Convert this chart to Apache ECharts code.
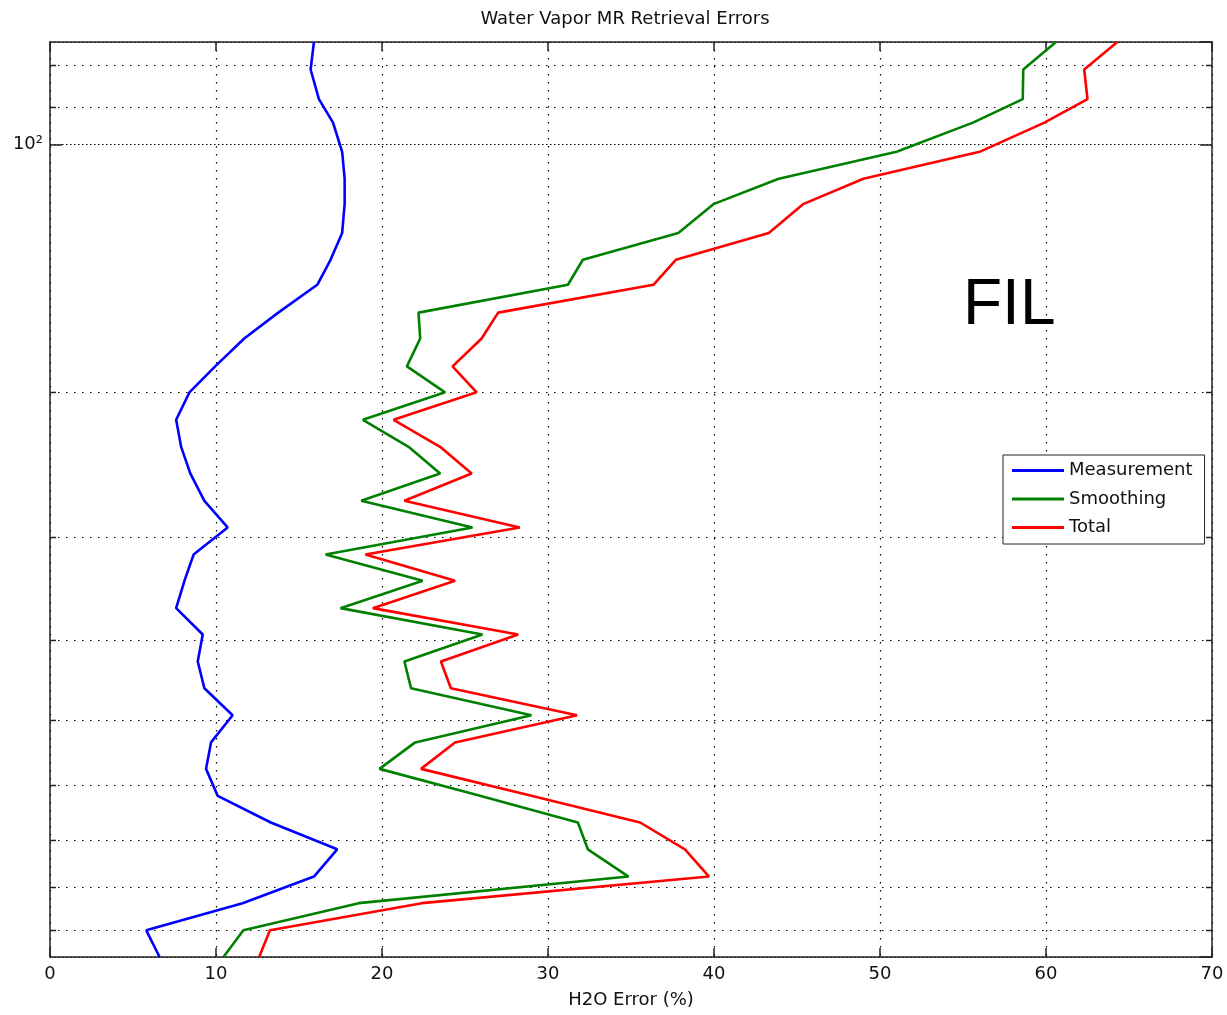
<!DOCTYPE html>
<html><head><meta charset="utf-8">
<script src="https://cdn.jsdelivr.net/npm/echarts@6/dist/echarts.min.js"></script>
<style>html,body{margin:0;padding:0;background:#fff}#c{width:1227px;height:1015px}</style>
</head><body><div id="c"></div>
<script>
// Pressure levels (hPa), top to bottom
const pressureLevels = [75, 81, 88, 94, 102, 110, 118, 128, 138, 148, 160, 172, 186, 200, 216, 233, 251, 271, 292, 315, 339, 366, 394, 425, 458, 494, 533, 574, 619, 667, 719, 776, 836, 902, 972];
// Errors (%) per level
const measurement = [15.9, 15.7, 16.2, 17.05, 17.6, 17.75, 17.75, 17.6, 16.9, 16.1, 13.75, 11.7, 9.95, 8.4, 7.6, 7.9, 8.45, 9.3, 10.7, 8.65, 8.1, 7.6, 9.2, 8.9, 9.3, 11.0, 9.7, 9.4, 10.1, 13.3, 17.3, 15.9, 11.6, 5.8, 6.6];
const smoothing = [60.6, 58.63, 58.6, 55.6, 51.0, 43.9, 40.0, 37.85, 32.1, 31.2, 22.2, 22.3, 21.5, 23.8, 18.85, 21.6, 23.5, 18.75, 25.45, 16.6, 22.45, 17.5, 26.05, 21.35, 21.75, 29.0, 22.0, 19.85, 25.9, 31.8, 32.4, 34.85, 18.6, 11.65, 10.45];
const total = [64.3, 62.3, 62.5, 59.9, 56.0, 49.0, 45.4, 43.3, 37.7, 36.35, 27.0, 26.0, 24.25, 25.7, 20.7, 23.5, 25.4, 21.35, 28.3, 19.0, 24.4, 19.45, 28.2, 23.55, 24.15, 31.75, 24.4, 22.35, 29.0, 35.55, 38.25, 39.7, 22.4, 13.25, 12.6];
const seriesNames = ['Measurement', 'Smoothing', 'Total'];
const seriesColors = ['#0000ff', '#008000', '#ff0000'];
// Axis ranges / ticks
const xMin = 0, xMax = 70, xStep = 10;
const pMin = 75, pMax = 972;
const minorGridP = [80, 90, 200, 300, 400, 500, 600, 700, 800, 900];

const FONT = 'DejaVu Sans';
const AX = '#222';
const DOT = {color: '#000', width: 1.2, type: [1.5, 6.5]};
const chart = echarts.init(document.getElementById('c'), null, {renderer: 'canvas'});

function lineSeries(name, vals, color) {
  return {
    name, type: 'line', xAxisIndex: 0, yAxisIndex: 0,
    data: pressureLevels.map((p, i) => [vals[i], p]),
    symbol: 'none', showSymbol: false, silent: true, z: 3,
    lineStyle: {color, width: 2.6}, itemStyle: {color},
    animation: false
  };
}

const option = {
  backgroundColor: '#fff',
  animation: false,
  title: {
    text: 'Water Vapor MR Retrieval Errors', left: 620, top: 5, textAlign: 'center',
    textStyle: {fontFamily: FONT, fontSize: 18, fontWeight: 'normal', color: '#111'}
  },
  grid: {left: 50, right: 15, top: 42, bottom: 58, containLabel: false},
  legend: {
    data: seriesNames, orient: 'vertical', left: 1003, top: 455,
    padding: [6, 12, 7, 9], itemWidth: 52, itemHeight: 3, itemGap: 9.5, icon: 'rect',
    backgroundColor: '#fff', borderColor: AX, borderWidth: 1,
    textStyle: {fontFamily: FONT, fontSize: 18, lineHeight: 19, color: '#111'}
  },
  xAxis: [
    {
      type: 'value', position: 'bottom', min: xMin, max: xMax, interval: xStep,
      axisLine: {show: true, lineStyle: {color: AX, width: 1.5}},
      axisTick: {show: true, inside: true, length: 9, lineStyle: {color: AX, width: 1.5}},
      axisLabel: {color: '#111', fontFamily: FONT, fontSize: 18, margin: 8},
      splitLine: {show: true, lineStyle: DOT},
      name: 'H2O Error (%)', nameLocation: 'middle', nameGap: 34,
      nameTextStyle: {fontFamily: FONT, fontSize: 18, color: '#111'}
    },
    {
      type: 'value', position: 'top', min: xMin, max: xMax, interval: xStep,
      axisLine: {show: true, onZero: false, lineStyle: {color: AX, width: 1.5}},
      axisTick: {show: true, inside: true, length: 9, lineStyle: {color: AX, width: 1.5}},
      axisLabel: {show: false}, splitLine: {show: false}
    }
  ],
  yAxis: [
    {
      type: 'log', logBase: 10, min: pMin, max: pMax, inverse: true, position: 'left',
      axisLine: {show: true, onZero: false, lineStyle: {color: AX, width: 1.5}},
      axisTick: {show: true, inside: true, length: 12, lineStyle: {color: AX, width: 1.5}},
      axisLabel: {
        color: '#111', fontFamily: FONT, fontSize: 18, margin: 7,
        showMinLabel: false, showMaxLabel: false,
        formatter: v => (Math.abs(v - 100) < 1e-6 ? '10²' : '')
      },
      splitLine: {show: true, lineStyle: {color: '#000', width: 1.2, type: [1.5, 2.5]}},
      minorTick: {show: false}, minorSplitLine: {show: false}
    },
    {
      type: 'log', logBase: 10, min: pMin, max: pMax, inverse: true, position: 'right',
      axisLine: {show: true, onZero: false, lineStyle: {color: AX, width: 1.5}},
      axisTick: {show: true, inside: true, length: 12, lineStyle: {color: AX, width: 1.5}},
      axisLabel: {show: false}, splitLine: {show: false}
    }
  ],
  graphic: [
    {type: 'text', left: 963, top: 274, z: 10,
     style: {text: 'FIL', font: '64px "Liberation Sans", Arial, sans-serif', fill: '#000'}}
  ],
  series: [
    {
      type: 'custom', name: 'minorGrid', xAxisIndex: 0, yAxisIndex: 0, silent: true, z: 1,
      data: minorGridP.map(p => [xMin, p]),
      renderItem(params, api) {
        const p = api.value(1);
        const a = api.coord([xMin, p]);
        const b = api.coord([xMax, p]);
        const y = Math.round(a[1]) + 0.5;
        return {
          type: 'group', children: [
            {type: 'line', shape: {x1: a[0], y1: y, x2: b[0], y2: y},
             style: {stroke: '#000', lineWidth: 1.2, lineDash: [1.5, 6.5]}},
            {type: 'line', shape: {x1: a[0], y1: y, x2: a[0] + 6, y2: y},
             style: {stroke: AX, lineWidth: 1.5}},
            {type: 'line', shape: {x1: b[0], y1: y, x2: b[0] - 6, y2: y},
             style: {stroke: AX, lineWidth: 1.5}}
          ]
        };
      }
    },
    lineSeries(seriesNames[0], measurement, seriesColors[0]),
    lineSeries(seriesNames[1], smoothing, seriesColors[1]),
    lineSeries(seriesNames[2], total, seriesColors[2])
  ]
};
chart.setOption(option);
</script>
</body></html>
